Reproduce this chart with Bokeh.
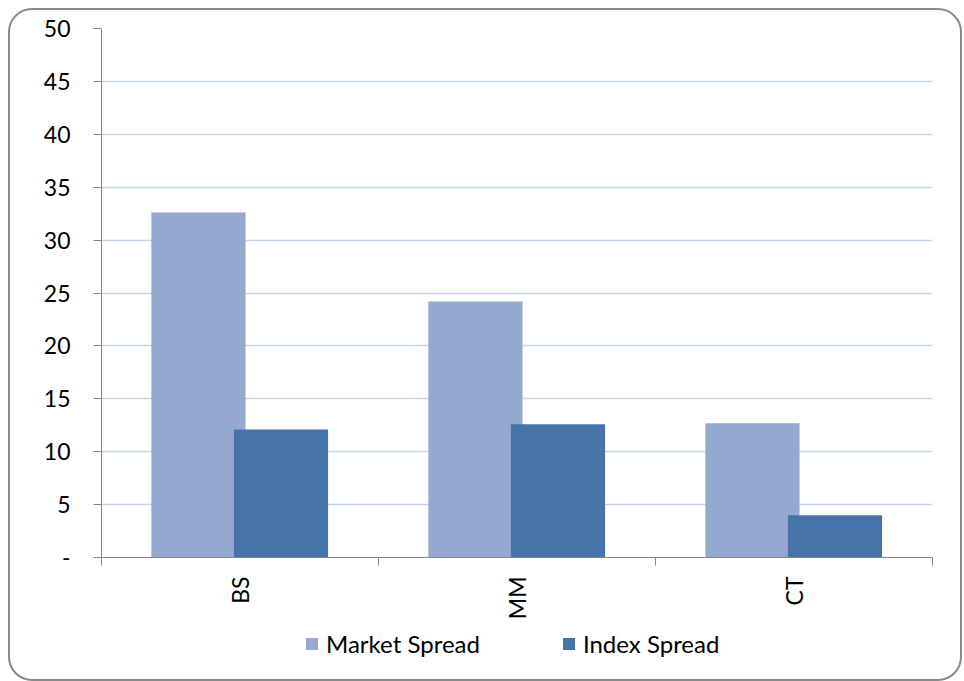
import math
from bokeh.plotting import figure
from bokeh.layouts import column
from bokeh.models import ColumnDataSource, FixedTicker, Legend, LegendItem
from bokeh.transform import dodge
from bokeh.embed import file_html
from bokeh.resources import INLINE

# Spread by segment
categories = ["BS", "MM", "CT"]
market_spread = [32.6, 24.2, 12.7]
index_spread = [12.1, 12.6, 4.0]
y_ticks = [0, 5, 10, 15, 20, 25, 30, 35, 40, 45, 50]

FONT = "Lato"
MARKET_COLOR = "#95a9d0"
INDEX_COLOR = "#4674a8"
AXIS_COLOR = "#868686"

pos = [i + 0.5 for i in range(len(categories))]
src = ColumnDataSource(dict(pos=pos, market=market_spread, index=index_spread))

# ---- main chart -------------------------------------------------------------
p = figure(
    width=950, height=615,
    x_range=(0, len(categories)), y_range=(0, 50),
    output_backend="svg", toolbar_location=None,
    min_border_left=91, min_border_right=28,
    min_border_top=18, min_border_bottom=68,
    border_fill_color=None, background_fill_color=None,
    outline_line_color=None,
)

p.vbar(x=dodge("pos", -0.15), top="market", width=0.34, source=src,
       fill_color=MARKET_COLOR, line_color=None)
p.vbar(x=dodge("pos", 0.148), top="index", width=0.34, source=src,
       fill_color=INDEX_COLOR, line_color=None)

# y axis
p.yaxis.ticker = FixedTicker(ticks=y_ticks)
p.yaxis.major_label_overrides = {0: "-"}
p.yaxis.minor_tick_line_color = None
p.yaxis.major_tick_out = 8
p.yaxis.major_tick_in = 0
p.yaxis.major_label_standoff = 23
p.yaxis.axis_line_color = AXIS_COLOR
p.yaxis.major_tick_line_color = AXIS_COLOR
p.yaxis.major_label_text_font = FONT
p.yaxis.major_label_text_font_size = "23px"
p.yaxis.major_label_text_color = "#000000"

# x axis: labels at category centres, tick marks on the boundaries
p.xaxis.ticker = FixedTicker(ticks=pos, minor_ticks=list(range(len(categories) + 1)))
p.xaxis.major_label_overrides = {x: c for x, c in zip(pos, categories)}
p.xaxis.major_tick_line_color = None
p.xaxis.major_tick_out = 8
p.xaxis.major_tick_in = 0
p.xaxis.minor_tick_out = 8
p.xaxis.minor_tick_in = 0
p.xaxis.minor_tick_line_color = AXIS_COLOR
p.xaxis.axis_line_color = AXIS_COLOR
p.xaxis.major_label_orientation = math.pi / 2
p.xaxis.major_label_standoff = 11
p.xaxis.major_label_text_font = FONT
p.xaxis.major_label_text_font_size = "23px"
p.xaxis.major_label_text_color = "#000000"

p.xgrid.visible = False
p.ygrid.ticker = FixedTicker(ticks=y_ticks)
p.ygrid.grid_line_color = "#c8d5ee"
p.ygrid.grid_line_width = 1.5

# ---- legend strip (same horizontal frame as the chart) ----------------------
key = figure(
    width=950, height=54, x_range=(0, 1), y_range=(0, 1),
    x_axis_type=None, y_axis_type=None,
    output_backend="svg", toolbar_location=None,
    min_border_left=91, min_border_right=28, min_border_top=0, min_border_bottom=0,
    border_fill_color=None, background_fill_color=None,
    outline_line_color=None,
)
key.grid.visible = False
k_market = key.vbar(x="pos", top="market", width=0.34, source=src,
                    fill_color=MARKET_COLOR, line_color=None, visible=False)
k_index = key.vbar(x="pos", top="index", width=0.34, source=src,
                   fill_color=INDEX_COLOR, line_color=None, visible=False)

legend = Legend(
    items=[LegendItem(label="Market Spread", renderers=[k_market]),
           LegendItem(label="Index Spread", renderers=[k_index])],
    orientation="horizontal", location=(203, 21),
    border_line_color=None, background_fill_alpha=0, inactive_fill_alpha=0,
    label_text_font=FONT, label_text_font_size="24px", label_text_color="#000000",
    glyph_width=15, glyph_height=15, label_standoff=7, spacing=81,
    label_height=20, padding=0, margin=0,
)
key.add_layout(legend)

# rounded grey frame around chart and legend
chart = column(
    p, key, spacing=0, width=954, height=673,
    styles={
        "border": "2px solid #8a8a8a",
        "border-radius": "24px",
        "margin-left": "8px",
        "margin-top": "8px",
        "background": "white",
    },
)

open("out.html", "w").write(file_html(chart, INLINE))
